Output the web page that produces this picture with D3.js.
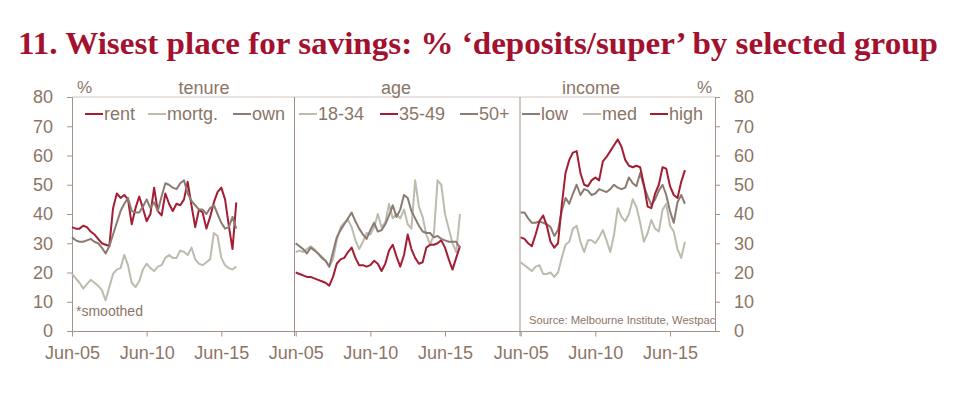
<!DOCTYPE html>
<html lang="en">
<head>
<meta charset="utf-8">
<title>Wisest place for savings</title>
<script src="https://cdnjs.cloudflare.com/ajax/libs/d3/7.8.5/d3.min.js"></script>
<style>
  body { margin: 0; background: #fff; }
  text { font-family: "Liberation Sans", Arial, sans-serif; fill: #8b7567; }
  .title { font-family: "Liberation Serif", "DejaVu Serif", serif; font-weight: bold; fill: #a3112f; }
</style>
</head>
<body>
<svg width="971" height="397"></svg>
<script>
// quarterly survey dates
var quarters = ["Jun-05","Sep-05","Dec-05","Mar-06","Jun-06","Sep-06","Dec-06","Mar-07","Jun-07","Sep-07",
  "Dec-07","Mar-08","Jun-08","Sep-08","Dec-08","Mar-09","Jun-09","Sep-09","Dec-09","Mar-10",
  "Jun-10","Sep-10","Dec-10","Mar-11","Jun-11","Sep-11","Dec-11","Mar-12","Jun-12","Sep-12",
  "Dec-12","Mar-13","Jun-13","Sep-13","Dec-13","Mar-14","Jun-14","Sep-14","Dec-14","Mar-15",
  "Jun-15","Sep-15","Dec-15","Mar-16","Jun-16"];

// tenure
var rent  = [35.5,35,35,36,35.5,34,33,31.5,30,29.5,29,42,47,45.5,46.5,45,36.5,42,46,42,37.5,40,49,41,39.5,47,43.5,41,43.5,43,45,51,43,35.5,41.5,40.5,35,39,44,47.5,49,45,36,28,44];
var mortg = [19.5,18,16.5,14.5,16,17.5,16.5,15.5,14,10.5,15,19.5,21,21.5,26,22.5,16.5,15,17,21,23,21.5,20.5,22,22.5,25,26,25,25,27.5,27,26,28.5,24.5,23,22.5,23.5,24.5,33.5,32.5,25,22.5,21.5,21,22];
var own   = [32,31,30.5,30.5,31,31.5,30.5,30,28.5,26.5,29,33,37,41,43.5,45.5,41,40.5,40.5,42.5,45,42,44,41,46,50.5,50,49,48.5,50.5,51.5,47,44.5,43,41.5,41.5,40,42,43,40,37,35,35.5,39,35];

// age
var age18 = [27,27.5,27,28,29,28,26.5,25.5,24,22,24.5,31,35.5,37,38,35.5,31,28,30.5,33.5,33,35.5,40,35.5,37,43.5,38.5,40,38.5,41.5,36.5,35,51.5,42.5,39,33,29.5,33,51.5,50,40,35,30,27,40];
var age35 = [20,19.5,19,18.5,18.5,18,17.5,17,16.5,15.5,18.5,23,24.5,25,27,28.5,25,22.5,22.5,22,22.5,24,23,20.5,23,27.5,29.5,25.5,22,26,33,28,25,23,23.5,28.5,29.5,29.5,30,31,28.5,24.5,21,25,29];
var age50 = [30,29,28,26.5,28.5,27.5,26.5,25,24,22,27,32,34.5,36.5,38.5,40.5,37.5,35,33,31.5,34.5,37,34,34.5,36.5,39.5,43,39,41.5,46.5,45.5,41,38.5,36,34,33.5,33.5,32,32.5,31.5,31,30.5,30.5,30.5,28.5];

// income
var low  = [40.5,40.5,38.5,37,37,37.5,37,36.5,35.5,32.5,34.5,41,45.5,43.5,47,50,46.5,48.5,48,46.5,47,48.5,48,47.5,48.5,50,49,48.5,49,52.5,50.5,49.5,54,49.5,46,43,45,48,50,46.5,41,37,44,46.5,43.5];
var med  = [23.5,22.5,21.5,20.5,22,22.5,19.5,19.5,20,18.5,20,25,29.5,30.5,35,36,30.5,27,31,31,30,32,34.5,31,27,33,42,39,37.5,40,45,42.5,37,30.5,33.5,38,35,34,41.5,43.5,36,34,28,25,30.5];
var high = [32,31.5,30,29,33,37.5,39.5,36,30.5,28.5,30,43,54,58.5,61,61.5,54,50,49.5,51.5,52.5,51.5,58,59.5,61.5,63.5,65.5,63,58.5,56.5,56,56.5,56,50,42.5,42,47,50,56,55.5,49.5,46.5,45.5,51,55];

var yTicks = [0,10,20,30,40,50,60,70,80];
var xTicks = ["Jun-05","Jun-10","Jun-15"];
var groupTitles = ["tenure","age","income"];
var legendNames = [["rent","mortg.","own"],["18-34","35-49","50+"],["low","med","high"]];

var RED = "#a51d33", LIGHT = "#bcbbad", DARK = "#8b7b72", AXIS = "#a29287";

var panels = [
  {series: [rent, mortg, own],   colors: [RED, LIGHT, DARK]},
  {series: [age18, age35, age50], colors: [LIGHT, RED, DARK]},
  {series: [low, med, high],     colors: [DARK, LIGHT, RED]}
];

var parse = d3.timeParse("%b-%y");
var dates = quarters.map(parse);

// layout
var plotTop = 97, plotBottom = 331, plotLeft = 72, plotRight = 715;
var panelStart = [72, 295.7, 520.7];
var panelWidth = 224;
var dividers = [294.5, 520];
var titleX = [204, 396, 591];
var legendX = [[85,148,233],[299,380,460],[522,583,650]];

var svg = d3.select("svg");

svg.append("text").attr("class","title")
  .attr("x", 18).attr("y", 54)
  .attr("font-size", 32)
  .attr("textLength", 920).attr("lengthAdjust", "spacingAndGlyphs")
  .text("11.  Wisest place for savings: % \u2018deposits/super\u2019 by selected group");

var y = d3.scaleLinear().domain([0, 80]).range([plotBottom, plotTop]);

// frame
svg.append("line").attr("x1", plotLeft).attr("x2", plotRight).attr("y1", plotTop).attr("y2", plotTop)
  .attr("stroke", "#cfc6c0").attr("stroke-width", 1);

var yLeft = svg.append("g").attr("transform", "translate(" + plotLeft + ",0)")
  .call(d3.axisLeft(y).tickValues(yTicks).tickSize(5).tickPadding(14));
var yRight = svg.append("g").attr("transform", "translate(" + plotRight + ",0)")
  .call(d3.axisRight(y).tickValues(yTicks).tickSize(5).tickPadding(14));
[yLeft, yRight].forEach(function(g) {
  g.select(".domain").attr("stroke", AXIS);
  g.selectAll(".tick line").attr("stroke", AXIS);
  g.selectAll("text").attr("font-size", 18).attr("fill", "#8b7567")
    .attr("font-family", "Liberation Sans, Arial, sans-serif");
});

svg.append("line").attr("x1", plotLeft).attr("x2", plotRight).attr("y1", plotBottom + 0.5).attr("y2", plotBottom + 0.5)
  .attr("stroke", AXIS);

dividers.forEach(function(dx) {
  svg.append("line").attr("x1", dx).attr("x2", dx).attr("y1", plotTop).attr("y2", plotBottom + 5)
    .attr("stroke", AXIS);
});

svg.append("clipPath").attr("id", "plotclip")
  .append("rect").attr("x", plotLeft).attr("y", plotTop).attr("width", plotRight - plotLeft).attr("height", plotBottom - plotTop);

panels.forEach(function(p, k) {
  var x = d3.scaleTime().domain([parse("Jun-05"), parse("Jun-20")])
    .range([panelStart[k], panelStart[k] + panelWidth]);

  var xa = svg.append("g").attr("transform", "translate(0," + (plotBottom + 0.5) + ")")
    .call(d3.axisBottom(x).tickValues(xTicks.map(parse)).tickFormat(d3.timeFormat("%b-%y"))
      .tickSize(5).tickPadding(10));
  xa.select(".domain").remove();
  xa.selectAll(".tick line").attr("stroke", AXIS);
  xa.selectAll("text").attr("font-size", 18).attr("fill", "#8b7567")
    .attr("font-family", "Liberation Sans, Arial, sans-serif");

  var line = d3.line().x(function(d, i) { return x(dates[i]); }).y(function(d) { return y(d); });

  p.series.forEach(function(s, j) {
    svg.append("path").datum(s)
      .attr("d", line)
      .attr("fill", "none")
      .attr("stroke", p.colors[j])
      .attr("stroke-width", 2)
      .attr("stroke-linejoin", "round");
  });

  // legend
  legendNames[k].forEach(function(name, j) {
    var lx = legendX[k][j];
    svg.append("line").attr("x1", lx).attr("x2", lx + 18).attr("y1", 114).attr("y2", 114)
      .attr("stroke", p.colors[j]).attr("stroke-width", 2);
    svg.append("text").attr("x", lx + 19).attr("y", 120).attr("font-size", 18).text(name);
  });

  svg.append("text").attr("x", titleX[k]).attr("y", 94).attr("font-size", 18)
    .attr("text-anchor", "middle").text(groupTitles[k]);
});

svg.append("text").attr("x", 77).attr("y", 93).attr("font-size", 17).text("%");
svg.append("text").attr("x", 697).attr("y", 93).attr("font-size", 17).text("%");
svg.append("text").attr("x", 76).attr("y", 316).attr("font-size", 14).text("*smoothed");
svg.append("text").attr("x", 529).attr("y", 324).attr("font-size", 11.2)
  .attr("clip-path", "url(#plotclip)")
  .text("Source: Melbourne Institute, Westpac");
</script>
</body>
</html>
